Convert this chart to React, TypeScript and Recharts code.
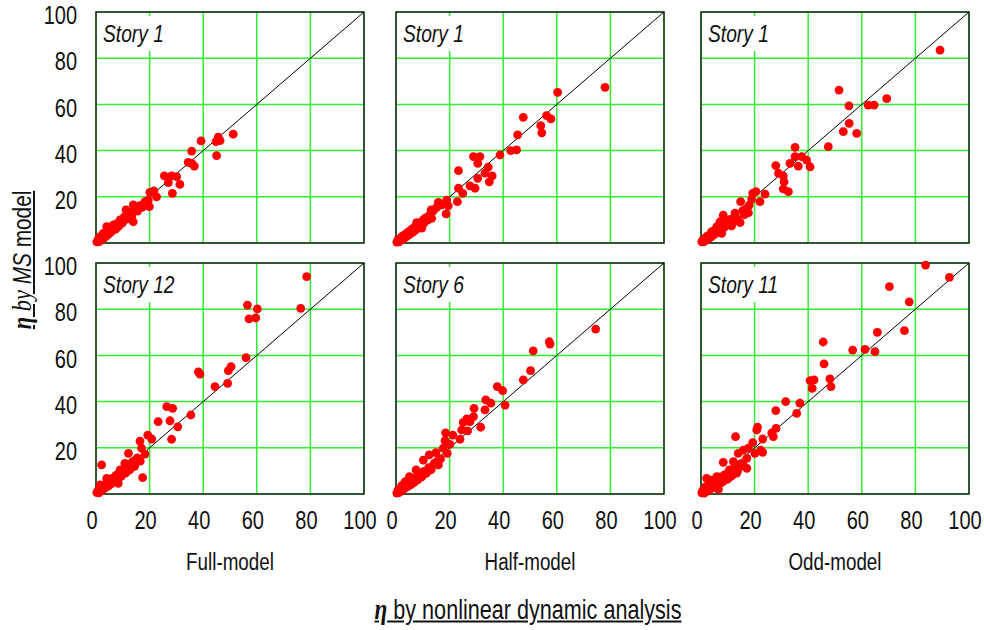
import React from 'react';
import { ScatterChart, Scatter, XAxis, YAxis, CartesianGrid, ReferenceLine, ReferenceArea } from 'recharts';

// ---------- data ----------
const xTicks = [0, 20, 40, 60, 80, 100];
const yTicks = [20, 40, 60, 80, 100];
const modelLabels = ['Full-model', 'Half-model', 'Odd-model'];
const storyLabels = ['Story 1', 'Story 1', 'Story 1', 'Story 12', 'Story 6', 'Story 11'];

const fullStory1 = [
  [0.3, 0.5], [0.8, 1.2], [1.2, 0.6], [1.6, 2.1], [2.0, 1.4], [2.4, 2.9], [2.8, 2.0], [3.2, 3.6], [3.6, 2.7],
  [4.0, 4.6], [4.4, 3.5], [4.8, 5.5], [5.3, 4.4], [5.8, 6.4], [6.2, 5.3], [6.8, 7.2], [7.3, 6.0], [7.8, 8.4],
  [8.5, 7.4], [9.2, 9.6], [9.8, 8.6], [10.5, 11.2], [11.0, 10.2], [11.8, 12.9], [12.5, 11.6], [14.2, 14.8],
  [15.5, 13.8], [16.3, 16.2], [17.2, 15.4],
  [51.2, 47.1], [45.6, 45.8], [46.3, 44.3], [44.8, 43.9], [45.0, 37.8], [39.2, 44.2], [35.7, 39.8], [34.4, 34.9],
  [36.7, 33.3], [35.7, 34.5], [25.5, 29.1], [28.2, 29.1], [30.1, 28.7], [27.0, 26.1], [31.3, 25.4], [28.5, 21.5],
  [20.1, 21.9], [21.6, 22.6], [22.6, 20.0], [19.5, 18.6], [19.9, 15.7], [18.3, 17.9], [13.9, 16.5], [11.2, 14.3],
  [13.3, 11.4], [13.9, 9.2], [11.4, 10.5], [9.0, 10.0], [8.3, 7.1], [6.5, 7.8], [5.2, 5.6], [4.0, 7.1], [2.7, 4.2],
  [1.5, 2.7], [0.9, 1.6],
];

const halfStory1 = [
  [0.3, 0.4], [0.7, 1.1], [1.1, 0.5], [1.5, 1.9], [1.9, 1.2], [2.3, 2.6], [2.7, 1.8], [3.1, 3.4], [3.5, 2.4],
  [3.9, 4.1], [4.4, 3.2], [4.9, 5.0], [5.4, 3.9], [6.0, 6.1], [6.5, 4.8], [7.0, 6.9], [7.6, 5.9], [8.2, 7.8],
  [8.8, 7.0], [9.5, 9.1], [10.3, 8.4], [11.0, 10.9], [11.8, 9.9], [12.5, 12.0], [15.0, 15.2], [16.8, 16.4],
  [78.0, 67.4], [60.3, 65.2], [47.5, 54.4], [56.2, 55.1], [57.8, 53.7], [54.0, 50.8], [54.4, 47.7], [45.4, 46.8],
  [42.8, 40.0], [45.0, 40.3], [38.8, 38.1], [28.9, 37.4], [31.3, 37.4], [30.5, 34.5], [34.4, 32.8], [33.2, 30.2],
  [35.9, 29.1], [30.5, 28.0], [34.8, 26.5], [23.3, 31.3], [27.6, 24.7], [29.5, 23.7], [23.3, 23.7], [24.9, 21.5],
  [22.9, 17.9], [18.9, 18.6], [15.8, 17.6], [19.5, 16.1], [18.7, 12.6], [13.9, 13.9], [13.1, 14.3], [13.3, 10.7],
  [10.2, 10.0], [7.7, 8.8], [9.6, 6.4], [5.8, 5.6], [4.0, 4.2], [2.1, 2.7], [0.8, 1.5],
];

const oddStory1 = [
  [0.3, 0.5], [0.8, 1.3], [1.2, 0.6], [1.7, 2.2], [2.1, 1.3], [2.6, 3.1], [3.0, 2.0], [3.5, 3.8], [3.9, 2.8],
  [4.4, 4.9], [4.9, 3.6], [5.4, 5.8], [6.0, 4.5], [6.6, 6.7], [7.2, 5.5], [7.9, 7.8], [8.6, 6.6], [9.3, 9.0],
  [10.1, 7.9], [10.9, 10.2], [11.8, 9.3], [12.6, 11.4], [13.5, 10.6], [15.6, 14.0], [16.2, 12.3], [18.0, 16.4],
  [89.2, 83.5], [51.5, 66.2], [69.3, 62.5], [62.4, 59.7], [64.6, 59.7], [55.2, 59.4], [55.3, 51.8], [53.1, 48.2],
  [58.1, 47.5], [47.5, 41.7], [35.1, 41.4], [35.1, 37.4], [37.6, 37.4], [39.4, 35.9], [40.7, 33.0], [36.3, 33.3],
  [33.2, 34.5], [27.9, 33.5], [28.9, 30.2], [30.7, 29.0], [31.0, 26.5], [30.7, 23.4], [32.6, 22.2], [23.9, 21.2],
  [20.5, 22.2], [19.3, 21.5], [18.9, 19.0], [22.0, 17.9], [14.8, 17.9], [17.1, 15.0], [17.7, 13.1], [12.7, 12.9],
  [14.6, 8.8], [8.3, 12.1], [11.4, 7.4], [7.1, 9.2], [5.9, 7.1], [4.0, 4.9], [7.7, 4.2], [2.1, 2.7], [0.8, 1.5],
];

const fullStory12 = [
  [0.3, 0.6], [0.7, 1.4], [1.1, 0.5], [1.5, 2.3], [1.9, 1.3], [2.3, 3.1], [2.7, 2.0], [3.1, 3.9], [3.5, 2.7],
  [4.0, 4.8], [4.5, 3.4], [5.0, 5.9], [5.5, 4.3], [6.1, 6.8], [6.7, 5.2], [7.3, 7.9], [8.0, 6.3], [8.7, 9.2],
  [9.4, 7.6], [10.2, 10.6], [11.0, 9.0], [11.8, 12.2], [12.6, 10.4], [13.5, 13.8], [14.4, 12.0], [15.4, 15.6],
  [16.5, 14.2],
  [78.6, 94.1], [76.4, 80.4], [56.5, 81.8], [60.2, 80.1], [57.1, 75.8], [59.6, 76.2], [56.0, 59.0], [38.2, 52.9],
  [38.8, 51.9], [50.4, 55.1], [49.4, 53.4], [49.1, 47.9], [44.4, 46.5], [35.4, 34.2], [26.4, 37.8], [28.6, 37.1],
  [23.2, 31.3], [27.6, 31.7], [30.5, 29.1], [28.2, 23.7], [19.3, 25.5], [20.8, 23.8], [16.4, 22.9], [17.0, 19.8],
  [18.3, 17.3], [12.1, 17.6], [14.6, 14.7], [10.8, 13.3], [17.4, 7.1], [2.1, 12.6], [9.0, 10.4], [7.7, 8.2],
  [4.0, 6.8], [5.6, 5.4], [8.3, 4.6], [1.5, 3.9], [2.7, 2.5], [0.7, 1.0],
];

const halfStory6 = [
  [0.3, 0.4], [0.7, 1.0], [1.1, 0.6], [1.5, 1.8], [1.9, 1.2], [2.3, 2.6], [2.7, 1.9], [3.1, 3.3], [3.5, 2.6],
  [4.0, 4.2], [4.5, 3.3], [5.0, 5.1], [5.6, 4.1], [6.2, 6.2], [6.8, 5.0], [7.4, 7.2], [8.1, 6.1], [8.8, 8.5],
  [9.6, 7.4], [10.4, 9.8], [11.3, 8.9], [12.2, 11.4], [13.1, 10.5], [14.2, 13.2], [15.4, 14.1], [16.6, 15.2],
  [74.5, 71.4], [57.2, 65.9], [57.5, 64.9], [51.2, 62.0], [50.2, 53.4], [47.5, 49.4], [37.8, 46.5], [39.8, 44.7],
  [40.7, 38.5], [33.5, 40.7], [35.4, 39.3], [33.2, 36.4], [29.1, 37.1], [26.4, 32.5], [25.1, 31.0], [28.9, 33.5],
  [27.6, 31.3], [31.6, 28.9], [26.7, 27.3], [24.5, 27.7], [18.5, 26.5], [21.2, 25.5], [23.9, 23.7], [18.3, 23.1],
  [20.1, 21.5], [17.6, 19.8], [19.1, 17.6], [14.9, 17.9], [12.4, 16.9], [15.8, 12.6], [13.1, 10.7], [10.2, 14.7],
  [7.5, 10.4], [9.0, 7.8], [5.0, 7.5], [3.4, 5.3], [2.1, 3.6], [0.8, 1.8],
];

const oddStory11 = [
  [0.3, 0.5], [0.8, 1.6], [1.2, 0.4], [1.7, 2.4], [2.2, 1.1], [2.7, 3.6], [3.2, 1.8], [3.7, 4.5], [4.2, 2.6],
  [4.8, 5.4], [5.4, 3.2], [6.0, 6.3], [6.7, 4.1], [7.4, 7.4], [8.1, 5.2], [8.9, 8.4], [9.7, 6.3], [10.6, 9.6],
  [11.5, 7.8], [12.5, 11.2], [13.6, 9.8], [14.8, 13.0], [16.0, 12.1],
  [83.8, 99.1], [92.7, 93.8], [70.3, 89.8], [77.7, 83.2], [75.9, 70.7], [65.8, 70.0], [45.6, 65.8], [56.6, 62.3],
  [61.2, 62.6], [64.9, 61.6], [45.9, 56.3], [40.7, 49.1], [42.2, 49.4], [48.1, 49.8], [41.5, 45.7], [48.5, 46.5],
  [31.6, 40.0], [36.9, 39.3], [35.7, 34.9], [27.9, 36.1], [21.1, 28.9], [20.8, 27.7], [28.0, 28.4], [26.4, 26.5],
  [27.0, 24.8], [12.9, 24.8], [23.0, 23.8], [19.3, 22.2], [22.3, 19.0], [23.0, 18.0], [20.1, 17.6], [17.6, 19.8],
  [15.8, 19.0], [13.9, 17.6], [17.1, 15.4], [17.1, 11.1], [12.1, 14.0], [8.3, 13.7], [13.3, 9.0], [10.6, 10.4],
  [10.2, 6.8], [5.9, 7.5], [2.1, 6.8], [4.0, 6.0], [6.5, 3.9], [6.5, 2.0], [1.5, 3.0], [0.5, 1.0],
];

const panelSeries = [fullStory1, halfStory1, oddStory1, fullStory12, halfStory6, oddStory11];

// ---------- layout / style ----------
const SANS = "'Liberation Sans', Arial, sans-serif";
const SERIF = "'Liberation Serif', 'DejaVu Serif', serif";
const SQUEEZE = 0.8;
const GRID = '#33ec33';
const colLefts = [96, 396, 701];
const rowTops = [12, 263];
const PW = 268;
const PH = 231;
const ML = 90;
const MT = 12;
const MR = 20;
const XH = 45;
const TICK_FS = 25;

const toPts = (a: number[][]) => a.map(([x, y]) => ({ x, y }));

const Dot = (props: any) => {
  const { cx, cy } = props;
  if (cx == null || cy == null) return null;
  return <circle cx={cx} cy={cy} r={4.4} fill="#ff0000" />;
};

const NoTick = () => <g />;

const YTick = (props: any) => {
  const { x, y, payload } = props;
  return (
    <text
      transform={`translate(${x - 19},${y + 4}) scale(${SQUEEZE},1)`}
      x={0}
      y={0}
      textAnchor="end"
      dominantBaseline="central"
      fontSize={TICK_FS}
      fontFamily={SANS}
      fill="#111"
    >
      {payload.value}
    </text>
  );
};

const XTick = (props: any) => {
  const { x, y, payload } = props;
  return (
    <text
      transform={`translate(${x - 4},${y + 27}) scale(${SQUEEZE},1)`}
      x={0}
      y={0}
      textAnchor="middle"
      dominantBaseline="central"
      fontSize={TICK_FS}
      fontFamily={SANS}
      fill="#111"
    >
      {payload.value}
    </text>
  );
};

function Panel({ data, label, left, top, showX, showY }: any) {
  return (
    <div style={{ position: 'absolute', left: left - ML, top: top - MT }}>
      <ScatterChart width={ML + PW + MR} height={MT + PH + XH} margin={{ top: MT, right: MR, left: 0, bottom: 0 }}>
        <CartesianGrid stroke={GRID} strokeWidth={1.5} />
        <XAxis
          type="number"
          dataKey="x"
          domain={[0, 100]}
          ticks={xTicks}
          height={XH}
          axisLine={false}
          tickLine={false}
          tickSize={0}
          tickMargin={0}
          tick={showX ? <XTick /> : <NoTick />}
        />
        <YAxis
          type="number"
          dataKey="y"
          domain={[0, 100]}
          ticks={yTicks}
          width={ML}
          axisLine={false}
          tickLine={false}
          tickSize={0}
          tickMargin={0}
          tick={showY ? <YTick /> : <NoTick />}
        />
        <ReferenceArea x1={0} x2={100} y1={0} y2={100} fill="none" fillOpacity={0} stroke="#222" strokeWidth={1.5} />
        <Scatter data={toPts(data)} isAnimationActive={false} shape={Dot} />
        <ReferenceLine segment={[{ x: 0, y: 0 }, { x: 100, y: 100 }]} stroke="#000" strokeWidth={1} />
      </ScatterChart>
      <div
        style={{
          position: 'absolute',
          left: ML + 3,
          top: MT + 4,
          padding: '0 6px 0 5px',
          background: '#fff',
          fontFamily: SANS,
          fontStyle: 'italic',
          fontSize: 24,
          lineHeight: '35px',
          color: '#111',
          whiteSpace: 'nowrap',
          transform: `scaleX(${SQUEEZE})`,
          transformOrigin: 'left top',
        }}
      >
        {label}
      </div>
    </div>
  );
}

export default function App() {
  return (
    <div style={{ position: 'absolute', left: 0, top: 0, width: 984, height: 630, background: '#fff', overflow: 'hidden' }}>
      {panelSeries.map((d, i) => {
        const r = Math.floor(i / 3);
        const c = i % 3;
        return (
          <Panel
            key={i}
            data={d}
            label={storyLabels[i]}
            left={colLefts[c]}
            top={rowTops[r]}
            showX={r === 1}
            showY={c === 0}
          />
        );
      })}
      {modelLabels.map((m, i) => (
        <div
          key={m}
          style={{
            position: 'absolute',
            left: colLefts[i] + PW / 2,
            top: 562,
            transform: `translate(-50%, -50%) scaleX(${SQUEEZE})`,
            fontFamily: SANS,
            fontSize: 23.5,
            color: '#111',
            whiteSpace: 'nowrap',
          }}
        >
          {m}
        </div>
      ))}
      <div
        style={{
          position: 'absolute',
          left: 22,
          top: 260,
          transform: `translate(-50%, -50%) rotate(-90deg) scaleX(${SQUEEZE})`,
          fontFamily: SANS,
          fontSize: 26,
          color: '#111',
          whiteSpace: 'nowrap',
          textDecoration: 'underline',
        }}
      >
        <span style={{ fontFamily: SERIF, fontWeight: 'bold', fontStyle: 'italic', fontSize: 28 }}>η</span>{' '}
        <span style={{ fontFamily: SERIF, fontStyle: 'italic', fontSize: 28 }}>by</span>{' '}
        <span style={{ fontStyle: 'italic' }}>MS</span> model
      </div>
      <div
        style={{
          position: 'absolute',
          left: 528,
          top: 609,
          transform: `translate(-50%, -50%) scaleX(${SQUEEZE})`,
          fontFamily: SANS,
          fontSize: 27,
          color: '#111',
          whiteSpace: 'nowrap',
          textDecoration: 'underline',
        }}
      >
        <span style={{ fontFamily: SERIF, fontWeight: 'bold', fontStyle: 'italic', fontSize: 29 }}>η</span> by nonlinear dynamic analysis
      </div>
    </div>
  );
}
